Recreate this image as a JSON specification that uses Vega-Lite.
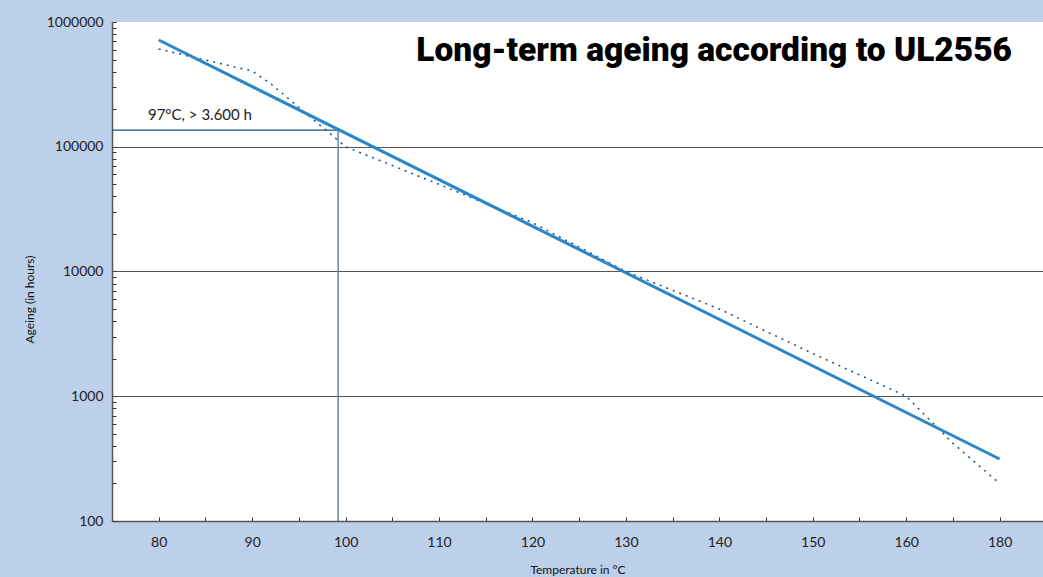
{
  "$schema": "https://vega.github.io/schema/vega-lite/v6.json",
  "width": 931,
  "height": 499,
  "autosize": {"type": "none"},
  "padding": {"left": 112, "top": 22, "right": 0, "bottom": 56},
  "background": "#bdd0e9",
  "title": {
    "text": "Long-term ageing according to UL2556",
    "anchor": "end",
    "frame": "group",
    "orient": "top",
    "font": "Roboto",
    "fontSize": 33.5,
    "fontWeight": 900,
    "color": "#000000",
    "baseline": "alphabetic",
    "offset": 0,
    "dx": -31,
    "dy": 79
  },
  "config": {
    "view": {"stroke": null, "fill": "#ffffff"},
    "font": "Lato"
  },
  "encoding": {
    "x": {
      "field": "t",
      "type": "quantitative",
      "scale": {"domain": [75, 160, 189.3], "range": [0, 794.2, 931]},
      "axis": {
        "title": "Temperature in °C",
        "values": [80, 85, 90, 95, 100, 105, 110, 115, 120, 125, 130, 135, 140, 145, 150, 155, 160, 170, 180],
        "format": "d",
        "labelExpr": "datum.value % 10 === 0 && datum.value !== 170 ? datum.label : ''",
        "grid": false,
        "tickSize": -4,
        "tickColor": "#333333",
        "tickWidth": 1,
        "domainColor": "#555555",
        "domainWidth": 1.5,
        "labelFont": "Lato",
        "labelFontSize": 14,
        "labelColor": "#222222",
        "labelPadding": 18,
        "titleFont": "Lato",
        "titleFontSize": 12,
        "titleFontWeight": "normal",
        "titleColor": "#111111",
        "titleY": 52,
        "titleBaseline": "alphabetic"
      }
    },
    "y": {
      "field": "h",
      "type": "quantitative",
      "scale": {"type": "log", "domain": [100, 1000000], "nice": false},
      "axis": {
        "title": "Ageing (in hours)",
        "values": [100, 200, 300, 400, 500, 600, 700, 800, 900, 1000, 2000, 3000, 4000, 5000, 6000, 7000, 8000, 9000, 10000, 20000, 30000, 40000, 50000, 60000, 70000, 80000, 90000, 100000, 200000, 300000, 400000, 500000, 600000, 700000, 800000, 900000, 1000000],
        "format": "d",
        "labelExpr": "indexof([100, 1000, 10000, 100000, 1000000], datum.value) >= 0 ? datum.label : ''",
        "grid": true,
        "gridColor": "#555555",
        "gridWidth": 1.2,
        "gridOpacity": {"condition": {"test": "indexof([1000, 10000, 100000], datum.value) >= 0", "value": 1}, "value": 0},
        "tickSize": -4,
        "tickColor": "#333333",
        "tickWidth": 1,
        "domainColor": "#555555",
        "domainWidth": 1.5,
        "labelFont": "Lato",
        "labelFontSize": 14,
        "labelColor": "#222222",
        "labelPadding": 13,
        "titleFont": "Lato",
        "titleFontSize": 12,
        "titleFontWeight": "normal",
        "titleColor": "#111111",
        "titleX": -76,
        "titleY": 277
      }
    }
  },
  "layer": [
    {
      "data": {"values": [
        {"t": 75, "t2": 99.2, "h": 136000}
      ]},
      "mark": {"type": "rule", "color": "#1d4f80", "strokeWidth": 1.2},
      "encoding": {"x2": {"field": "t2"}}
    },
    {
      "data": {"values": [
        {"t": 99.2, "h": 100, "h2": 136000}
      ]},
      "mark": {"type": "rule", "color": "#5d8bb3", "strokeWidth": 1.5},
      "encoding": {"y2": {"field": "h2"}}
    },
    {
      "data": {"values": [
        {"t": 80, "h": 608000},
        {"t": 85, "h": 495000},
        {"t": 90, "h": 405000},
        {"t": 92, "h": 320000},
        {"t": 100, "h": 100000},
        {"t": 110, "h": 50000},
        {"t": 120, "h": 24600},
        {"t": 130, "h": 10000},
        {"t": 140, "h": 5000},
        {"t": 150, "h": 2200},
        {"t": 160, "h": 1000},
        {"t": 170, "h": 420},
        {"t": 180, "h": 200}
      ]},
      "mark": {"type": "line", "color": "#1f4e79", "strokeWidth": 1.5, "strokeDash": [2, 5], "interpolate": "linear"},
      "encoding": {}
    },
    {
      "data": {"values": [
        {"t": 80, "h": 717600},
        {"t": 180, "h": 314}
      ]},
      "mark": {"type": "line", "color": "#2a86c8", "strokeWidth": 3},
      "encoding": {}
    },
    {
      "data": {"values": [
        {"t": 78.85, "h": 163800, "label": "97°C, > 3.600 h"}
      ]},
      "mark": {"type": "text", "align": "left", "baseline": "alphabetic", "font": "Lato", "fontSize": 15, "color": "#222222"},
      "encoding": {"text": {"field": "label"}}
    }
  ]
}
